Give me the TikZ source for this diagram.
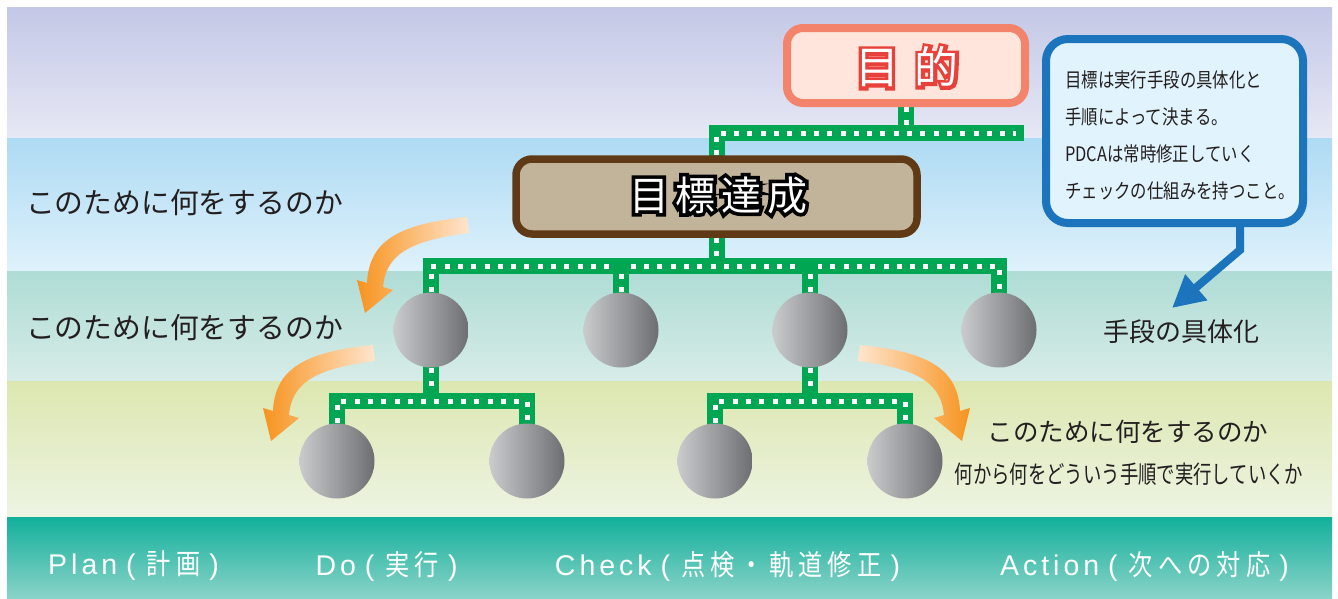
\documentclass[tikz,border=0pt]{standalone}
\usepackage{fontspec}
\setmainfont{Noto Sans CJK JP}
\newfontfamily\jp{Noto Sans CJK JP}
\newfontfamily\jpn[FakeStretch=0.82]{Noto Sans CJK JP}
\newfontfamily\jpc[FakeStretch=0.75]{Noto Sans CJK JP}
\newfontfamily\jpoa[FakeBold=15]{Noto Sans CJK JP}
\newfontfamily\jpob[FakeBold=18]{Noto Sans CJK JP}
\newfontfamily\barlat[LetterSpace=14]{Liberation Sans}
\newfontfamily\barjp[FakeStretch=0.85,LetterSpace=18]{Noto Sans CJK JP}
\usetikzlibrary{arrows.meta}
\definecolor{topA}{HTML}{C3C8E6}
\definecolor{topB}{HTML}{E7E8F5}
\definecolor{bluA}{HTML}{AEDAF3}
\definecolor{bluB}{HTML}{DFF2FC}
\definecolor{tealA}{HTML}{AFDCD5}
\definecolor{tealB}{HTML}{D7ECE8}
\definecolor{ylwA}{HTML}{DCE7B0}
\definecolor{ylwB}{HTML}{EDF4E3}
\definecolor{barA}{HTML}{12B09B}
\definecolor{barB}{HTML}{8AD3C8}
\definecolor{lgreen}{HTML}{00A651}
\definecolor{salmon}{HTML}{F4836B}
\definecolor{pinkfill}{HTML}{FFE5DC}
\definecolor{redT}{HTML}{E8403A}
\definecolor{brownD}{HTML}{603A17}
\definecolor{tanF}{HTML}{C2B49A}
\definecolor{cblue}{HTML}{1C75BC}
\definecolor{cfill}{HTML}{E1F3FC}
\definecolor{ballL}{HTML}{CACBCD}
\definecolor{ballR}{HTML}{6D6E71}
\definecolor{orgH}{HTML}{F7931E}
\definecolor{orgT}{HTML}{FFE5CE}
\definecolor{txt}{HTML}{231F20}
\pgfdeclarelayer{bg}
\pgfdeclarelayer{links}
\pgfsetlayers{bg,links,main}
\tikzset{
  link/.style={draw=lgreen, line width=16pt, line cap=rect, line join=miter,
    postaction={draw=white, line width=5pt, line cap=butt, dash pattern=on 5pt off 8.3pt}},
  goalbox/.style={rectangle, rounded corners=16pt, draw=salmon, line width=8pt, fill=pinkfill,
    minimum width=238pt, minimum height=75pt},
  targetbox/.style={rectangle, rounded corners=16pt, draw=brownD, line width=7.5pt, fill=tanF,
    minimum width=401pt, minimum height=75pt},
  callbox/.style={rectangle, rounded corners=22pt, draw=cblue, line width=8pt, fill=cfill,
    minimum width=257pt, minimum height=184pt},
  ball/.style={circle, minimum size=75pt, inner sep=0pt, left color=ballL, right color=ballR, draw=none},
  lbl/.style={inner sep=0pt, text=txt},
  barlbl/.style={inner sep=0pt, text=white, font=\fontsize{28.5}{30}\selectfont},
}
\newcommand\barlabel[2]{{\barlat #1}\kern9pt{\barlat (}\kern11pt{\barjp #2}\kern9pt{\barlat )}}
\begin{document}
\begin{tikzpicture}[x=1pt,y=-1pt]
\useasboundingbox (0,0) rectangle (1338,598);
\begin{pgfonlayer}{bg}
  \fill[white] (0,0) rectangle (1338,598);
  \shade[top color=topA, bottom color=topB] (7,7) rectangle (1332,138);
  \shade[top color=bluA, bottom color=bluB] (7,138) rectangle (1332,271);
  \shade[top color=tealA, bottom color=tealB] (7,271) rectangle (1332,381);
  \shade[top color=ylwA, bottom color=ylwB] (7,381) rectangle (1332,517);
  \shade[top color=barA, bottom color=barB] (7,517) rectangle (1332,598);
\end{pgfonlayer}

% boxes
\node[goalbox] (goal) at (906,65.5) {};
\node[inner sep=0pt, text=redT, font=\jpoa\fontsize{44}{48}\selectfont] (goalshadow) at (907,67) {目\hspace{16pt}的};
\node[inner sep=0pt, text=white, font=\fontsize{44}{48}\selectfont] (goaltext) at (goalshadow.center) {目\hspace{16pt}的};
\node[targetbox] (target) at (716.5,196.5) {};
\node[inner sep=0pt, text=black, font=\jpob\fontsize{40}{44}\selectfont] (targetshadow) at (718,195) {目\hspace{6pt}標\hspace{6pt}達\hspace{6pt}成};
\node[inner sep=0pt, text=white, font=\fontsize{40}{44}\selectfont] (targettext) at (targetshadow.center) {目\hspace{6pt}標\hspace{6pt}達\hspace{6pt}成};

% balls
\node[ball] (b1) at (431,330) {};
\node[ball] (b2) at (621,330) {};
\node[ball] (b3) at (810,330) {};
\node[ball] (b4) at (999,330) {};
\node[ball] (b5) at (337,461) {};
\node[ball] (b6) at (527,461) {};
\node[ball] (b7) at (715,461) {};
\node[ball] (b8) at (905,461) {};

% callout
\node[callbox] (call) at (1174.5,131) {};
\node[lbl, anchor=west, align=left, font=\jpn\fontsize{20}{37}\selectfont] (calltext) at (1065,135)
  {目標は実行手段の具体化と\\手順によって決まる。\\PDCAは常時修正していく\\チェックの仕組みを持つこと。};
\coordinate (cx) at (1240,250);
\coordinate (ctip) at (1172,308);

% connectors
\coordinate (e0) at (1016,133);
\coordinate (h1) at (716.5,266);
\coordinate (h2) at (433,401);
\coordinate (h3) at (810,401);
\begin{pgfonlayer}{links}
  \draw[link] (goal.south) -- (goal.south |- e0);
  \draw[link] (target.north) -- (target.north |- e0) -- (e0);
  \draw[link] (target.south) -- (h1);
  \draw[link] (b1.north) -- (b1.north |- h1) -- (b4.north |- h1) -- (b4.north);
  \draw[link] (b2.north) -- (b2.north |- h1);
  \draw[link] (b3.north) -- (b3.north |- h1);
  \draw[link] (b1.south) -- (b1.south |- h2);
  \draw[link] (b5.north) -- (b5.north |- h2) -- (b6.north |- h2) -- (b6.north);
  \draw[link] (b3.south) -- (b3.south |- h3);
  \draw[link] (b7.north) -- (b7.north |- h3) -- (b8.north |- h3) -- (b8.north);
  \draw[cblue, line width=8pt, line join=miter, -{Triangle[length=32pt,width=32pt]}]
    (call.south -| cx) -- (cx) -- (ctip);
\end{pgfonlayer}

% orange arrows
\shade[left color=orgH, right color=orgT]
  (467,217) .. controls (395,224) and (369,243) .. (367,283) -- (357,280) -- (365,313)
  -- (393,290) -- (383,287) .. controls (386,257) and (405,241) .. (469,233) -- cycle;
\shade[left color=orgH, right color=orgT]
  (373,345) .. controls (301,352) and (275,371) .. (273,411) -- (263,408) -- (271,441)
  -- (299,418) -- (289,415) .. controls (292,385) and (311,369) .. (375,361) -- cycle;
\shade[left color=orgT, right color=orgH]
  (860,345) .. controls (932,352) and (958,371) .. (960,411) -- (970,408) -- (962,441)
  -- (934,418) -- (944,415) .. controls (941,385) and (922,369) .. (858,361) -- cycle;

% texts
\node[lbl, font=\fontsize{28.8}{30}\selectfont] (q1) at (184.5,203) {このために何をするのか};
\node[lbl, font=\fontsize{28.8}{30}\selectfont] (q2) at (184.5,328) {このために何をするのか};
\node[lbl, font=\fontsize{26}{30}\selectfont] (q5) at (1181,332) {手段の具体化};
\node[lbl, font=\fontsize{25.5}{30}\selectfont] (q3) at (1128,432) {このために何をするのか};
\node[lbl, font=\jpc\fontsize{24.5}{30}\selectfont] (q4) at (1129,474) {何から何をどういう手順で実行していくか};

% bottom bar
\node[barlbl] (plan) at (133.5,566) {\barlabel{Plan}{計画}};
\node[barlbl] (do) at (386.5,566) {\barlabel{Do}{実行}};
\node[barlbl] (check) at (727.5,566) {\barlabel{Check}{点検・軌道修正}};
\node[barlbl] (action) at (1144.5,566) {\barlabel{Action}{次への対応}};
\end{tikzpicture}
\end{document}
